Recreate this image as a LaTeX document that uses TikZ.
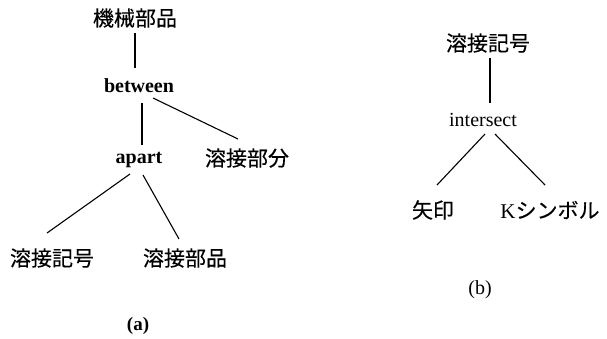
\documentclass[tikz,border=0pt]{standalone}
\usepackage{fontspec}
\setmainfont{Liberation Serif}
\newfontfamily\cjk{Noto Sans CJK JP}[FakeBold=0.3]
\begin{document}
\begin{tikzpicture}[x=1pt,y=-1pt,
  lbl/.style={inner sep=0pt,font=\fontsize{20}{22}\selectfont},
  jlbl/.style={inner sep=0pt,font=\fontsize{21}{24}\selectfont\cjk},
  edge/.style={line width=1.1pt}]
\useasboundingbox (0,0) rectangle (607,338);
% (a)
\node[jlbl] (m1) at (135,18) {機械部品};
\node[lbl,font=\fontsize{20}{22}\selectfont\bfseries] (bw) at (139,86) {between};
\node[lbl,font=\fontsize{20}{22}\selectfont\bfseries] (ap) at (139,160) {apart};
\node[jlbl] (ws) at (247,158) {溶接部分};
\node[jlbl] (k1) at (52,258) {溶接記号};
\node[jlbl] (k2) at (185,258) {溶接部品};
\node[lbl,font=\fontsize{19}{22}\selectfont\bfseries] (la) at (138,326) {(a)};
% (b)
\node[jlbl] (r1) at (488,43) {溶接記号};
\node[lbl] (is) at (483,120) {intersect};
\node[jlbl] (ya) at (433,210) {矢印};
\node[lbl,font=\fontsize{21}{24}\selectfont] (ks) at (550,210) {K{\cjk シンボル}};
\node[lbl] (lb) at (480,290) {(b)};
% edges
\draw[edge] ([shift={(0,15)}]m1.center) -- ([shift={(-4,-18)}]bw.center);
\draw[edge] ([shift={(3,17)}]bw.center) -- ([shift={(3,-15)}]ap.center);
\draw[edge] ([shift={(14,12)}]bw.center) -- ([shift={(-9,-19)}]ws.center);
\draw[edge] ([shift={(-9,14)}]ap.center) -- ([shift={(-5,-25)}]k1.center);
\draw[edge] ([shift={(4,15)}]ap.center) -- ([shift={(-6,-19)}]k2.center);
\draw[edge] ([shift={(2,15)}]r1.center) -- ([shift={(7,-17)}]is.center);
\draw[edge] ([shift={(2,14)}]is.center) -- ([shift={(4,-25)}]ya.center);
\draw[edge] ([shift={(12,14)}]is.center) -- ([shift={(-5,-25)}]ks.center);
\end{tikzpicture}
\end{document}
